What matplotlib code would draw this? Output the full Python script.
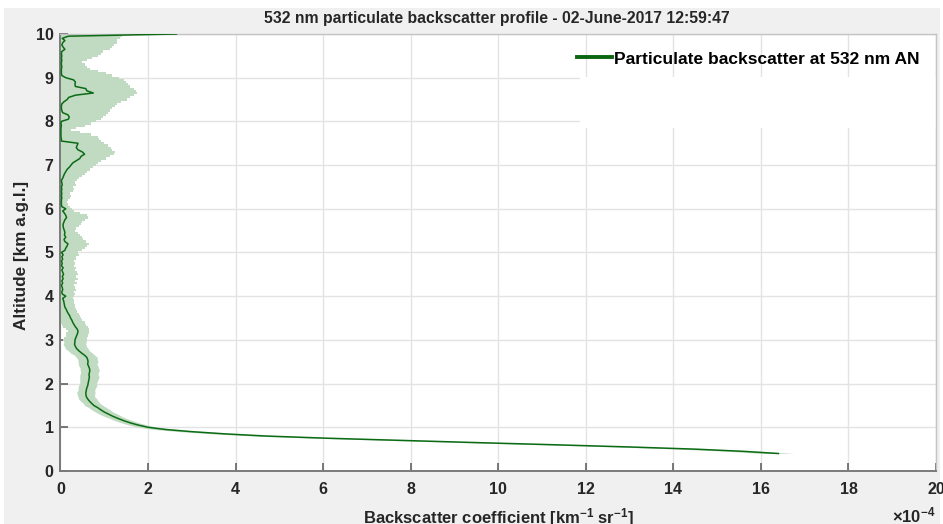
import numpy as np
import matplotlib
matplotlib.use("Agg")
import matplotlib.pyplot as plt
from matplotlib.patches import Rectangle
from matplotlib.lines import Line2D

plt.rcParams['font.family'] = ['Liberation Sans', 'DejaVu Sans']
plt.rcParams['mathtext.fontset'] = 'custom'
plt.rcParams['mathtext.rm'] = 'Liberation Sans:bold'
plt.rcParams['mathtext.bf'] = 'Liberation Sans:bold'
plt.rcParams['mathtext.it'] = 'Liberation Sans:bold'

# Altitude bins [km a.g.l.]
altitude_km = np.round(np.arange(0.40, 10.0001, 0.05), 2)

# Particulate backscatter at 532 nm, in units of 1e-4 km^-1 sr^-1
backscatter = np.array([
    16.4, 15.6, 14.5, 13.0, 11.3, 9.5, 7.8, 6.1, 4.7, 3.75,
    3.00, 2.40, 2.00, 1.78, 1.60, 1.45, 1.32, 1.20, 1.10, 1.00,
    0.92, 0.85, 0.76, 0.71, 0.66, 0.62, 0.59, 0.58, 0.58, 0.59,
    0.60, 0.62, 0.63, 0.64, 0.65, 0.66, 0.65, 0.66, 0.67, 0.66,
    0.64, 0.62, 0.63, 0.62, 0.60, 0.55, 0.48, 0.42, 0.37, 0.34,
    0.32, 0.33, 0.33, 0.35, 0.37, 0.39, 0.40, 0.38, 0.34, 0.31,
    0.28, 0.26, 0.23, 0.21, 0.18, 0.15, 0.13, 0.10, 0.09, 0.08,
    0.07, 0.05, 0.12, 0.04, 0.03, 0.05, 0.04, 0.02, 0.05, 0.03,
    0.06, 0.04, 0.07, 0.05, 0.03, 0.06, 0.02, 0.04, 0.02, 0.05,
    0.03, 0.06, 0.02, 0.10, 0.12, 0.15, 0.17, 0.10, 0.08, 0.12,
    0.09, 0.10, 0.09, 0.07, 0.06, 0.06, 0.08, 0.10, 0.14, 0.12,
    0.09, 0.05, 0.12, 0.03, 0.02, 0.02, 0.02, 0.03, 0.02, 0.03,
    0.02, 0.03, 0.02, 0.04, 0.03, 0.02, 0.05, 0.07, 0.09, 0.12,
    0.15, 0.20, 0.24, 0.28, 0.36, 0.44, 0.47, 0.55, 0.50, 0.40,
    0.36, 0.38, 0.40, 0.02, 0.02, 0.01, 0.01, 0.01, 0.01, 0.01,
    0.02, 0.01, 0.02, 0.18, 0.20, 0.17, 0.05, 0.03, 0.02, 0.02,
    0.03, 0.08, 0.15, 0.19, 0.34, 0.75, 0.60, 0.58, 0.34, 0.33,
    0.34, 0.30, 0.12, 0.03, 0.02, 0.02, 0.02, 0.03, 0.02, 0.02,
    0.03, 0.02, 0.03, 0.02, 0.03, 0.10, 0.06, 0.03, 0.05, 0.10,
    0.04, 0.18, 2.65,
])

# Backscatter uncertainty (same units)
uncertainty = np.array([
    0.37, 0.35, 0.35, 0.33, 0.33, 0.32, 0.32, 0.30, 0.30, 0.28,
    0.27, 0.25, 0.22, 0.21, 0.20, 0.20, 0.19, 0.20, 0.21, 0.20,
    0.21, 0.20, 0.21, 0.19, 0.20, 0.21, 0.19, 0.20, 0.21, 0.19,
    0.20, 0.21, 0.19, 0.20, 0.21, 0.22, 0.21, 0.20, 0.22, 0.21,
    0.22, 0.21, 0.23, 0.22, 0.24, 0.23, 0.25, 0.24, 0.26, 0.25,
    0.26, 0.25, 0.27, 0.26, 0.25, 0.27, 0.24, 0.26, 0.28, 0.27,
    0.27, 0.24, 0.23, 0.23, 0.24, 0.23, 0.23, 0.24, 0.24, 0.22,
    0.24, 0.23, 0.18, 0.29, 0.27, 0.31, 0.28, 0.28, 0.33, 0.30,
    0.34, 0.32, 0.33, 0.33, 0.30, 0.30, 0.28, 0.30, 0.29, 0.31,
    0.32, 0.36, 0.38, 0.40, 0.43, 0.45, 0.49, 0.48, 0.44, 0.38,
    0.35, 0.30, 0.25, 0.29, 0.36, 0.41, 0.42, 0.45, 0.48, 0.48,
    0.36, 0.25, 0.14, 0.19, 0.16, 0.13, 0.15, 0.19, 0.23, 0.19,
    0.26, 0.27, 0.26, 0.31, 0.30, 0.36, 0.37, 0.41, 0.46, 0.48,
    0.53, 0.55, 0.56, 0.58, 0.56, 0.61, 0.65, 0.67, 0.75, 0.78,
    0.79, 0.70, 0.60, 0.90, 0.86, 0.84, 0.69, 0.44, 0.24, 0.35,
    0.53, 0.69, 0.78, 0.74, 0.78, 0.86, 1.03, 1.09, 1.16, 1.23,
    1.27, 1.30, 1.37, 1.40, 1.33, 0.99, 1.12, 1.10, 1.25, 1.22,
    1.16, 1.15, 1.21, 1.15, 1.01, 0.83, 0.66, 0.57, 0.53, 0.48,
    0.57, 0.71, 0.82, 0.90, 0.95, 1.02, 1.12, 1.19, 1.23, 1.20,
    1.31, 1.22, 0.05,
])

x_ticks = np.arange(0, 21, 2)
y_ticks = np.arange(0, 11, 1)

title = "532 nm particulate backscatter profile - 02-June-2017 12:59:47"
legend_label = "Particulate backscatter at 532 nm AN"

line_color = '#0b6b14'
band_color = '#c0dbc2'
text_color = '#262626'

fig = plt.figure(figsize=(9.43, 5.24), dpi=100, facecolor='white')
# grey figure panel with a thin white margin
fig.patches.append(Rectangle((4 / 943, 0), 936 / 943, 1 - 8 / 524,
                             transform=fig.transFigure, facecolor='#f0f0f0',
                             edgecolor='none', zorder=-10))

ax = fig.add_axes([60.5 / 943, 1 - 471 / 524, 875.5 / 943, 437 / 524])
ax.set_facecolor('white')

ax.set_xlim(0, 20)
ax.set_ylim(0, 10)
ax.set_xticks(x_ticks)
ax.set_yticks(y_ticks)
ax.set_axisbelow(True)
ax.grid(True, color='#e3e3e3', linewidth=1.0)

# White patch behind the legend area
ax.add_patch(Rectangle((11.86, 7.85), 8.14, 1.17, facecolor='white',
                       edgecolor='none', zorder=1))

lower = backscatter - uncertainty
upper = backscatter + uncertainty
# smooth band in the boundary layer, binned band in the noisy free troposphere
low = altitude_km <= 3.0
high = altitude_km >= 2.95
ax.fill_betweenx(altitude_km[low], lower[low], upper[low],
                 color=band_color, linewidth=0, zorder=2)
ax.fill_betweenx(altitude_km[high], lower[high], upper[high], step='mid',
                 color=band_color, linewidth=0, zorder=2)
ax.plot(backscatter, altitude_km, color=line_color, linewidth=1.1, zorder=3)

for side in ('left', 'bottom'):
    ax.spines[side].set_color('#7a7a7a')
    ax.spines[side].set_linewidth(1.4)
for side in ('top', 'right'):
    ax.spines[side].set_color('#c4c4c4')
    ax.spines[side].set_linewidth(1.0)

ax.tick_params(axis='both', direction='in', length=6, width=1.1, color='#555555',
               labelcolor=text_color, labelsize=11.5)
ax.tick_params(axis='x', pad=8)
ax.tick_params(axis='y', pad=5)
for lab in ax.get_xticklabels() + ax.get_yticklabels():
    lab.set_fontweight('bold')

handle = Line2D([], [], color='#0a6610', linewidth=2.8)
ax.legend([handle], [legend_label], loc='center left',
          bbox_to_anchor=(516.5 / 875.5, 412 / 437), frameon=False,
          borderpad=0, borderaxespad=0, handlelength=2.0, handletextpad=0.15,
          prop={'weight': 'bold', 'size': 12.5})

fig.text(497 / 943, 1 - 18 / 524, title, ha='center', va='center',
         fontsize=11.3, fontweight='bold', color=text_color)
fig.text(22 / 943, 1 - 255 / 524, "Altitude [km a.g.l.]", rotation=90,
         ha='center', va='center', fontsize=12.3, fontweight='bold', color=text_color)
fig.text(498 / 943, 0.5 / 524, "Backscatter coefficient [km$^{-1}$ sr$^{-1}$]",
         ha='center', va='baseline', fontsize=12, fontweight='bold', color=text_color)
fig.text(936 / 943, 2 / 524, "×10$^{-4}$", ha='right', va='baseline',
         fontsize=12, fontweight='bold', color=text_color)

fig.savefig("out.png", dpi=100, facecolor=fig.get_facecolor())
